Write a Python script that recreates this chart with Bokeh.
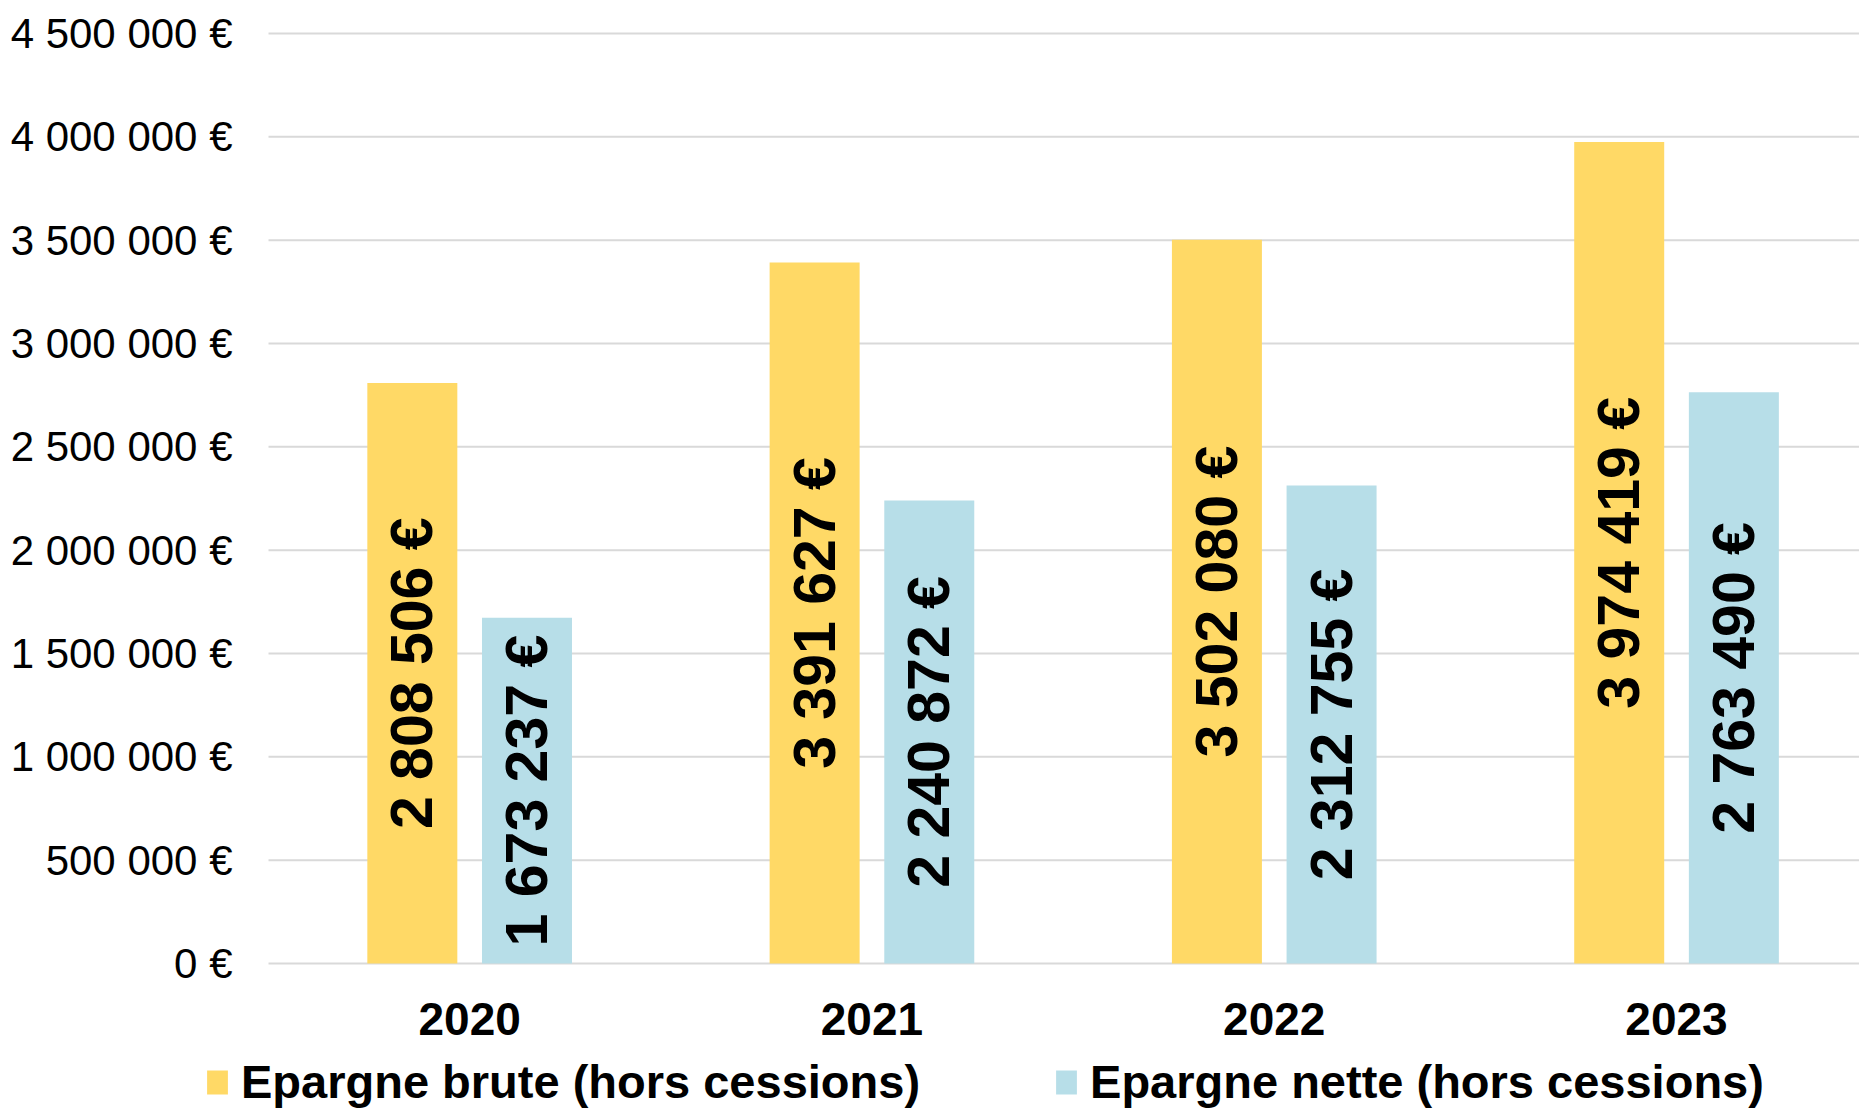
from bokeh.plotting import figure
from bokeh.models import ColumnDataSource, Range1d, FixedTicker, Legend, LegendItem
from bokeh.embed import file_html
from bokeh.resources import INLINE
from bokeh.core.properties import value
import math

# ---- data ----
years = ["2020", "2021", "2022", "2023"]
epargne_brute = [2808506, 3391627, 3502080, 3974419]
epargne_nette = [1673237, 2240872, 2312755, 2763490]
series_names = ["Epargne brute (hors cessions)", "Epargne nette (hors cessions)"]
y_ticks = [0, 500000, 1000000, 1500000, 2000000, 2500000, 3000000, 3500000, 4000000, 4500000]
y_tick_labels = ["0 €", "500 000 €", "1 000 000 €", "1 500 000 €", "2 000 000 €",
                 "2 500 000 €", "3 000 000 €", "3 500 000 €", "4 000 000 €", "4 500 000 €"]

# ---- style ----
YELLOW = "#FFD966"
BLUE = "#B7DEE8"
GRID = "#D9D9D9"
FONT = "Liberation Sans"
OFFSET = 0.1425
BAR_W = 0.2237
X_START, X_END = -0.6662, 3.9548
Y_START, Y_END = -711280, 4659600


def fmt(v):
    return f"{v:,}".replace(",", " ") + " €"


centers = [i + 0.5 for i in range(len(years))]
src_b = ColumnDataSource(dict(
    x=[c - OFFSET for c in centers], top=epargne_brute,
    mid=[v / 2 for v in epargne_brute], label=[fmt(v) for v in epargne_brute]))
src_n = ColumnDataSource(dict(
    x=[c + OFFSET for c in centers], top=epargne_nette,
    mid=[v / 2 for v in epargne_nette], label=[fmt(v) for v in epargne_nette]))
src_grid = ColumnDataSource(dict(
    x0=[0] * len(y_ticks), x1=[X_END] * len(y_ticks), y=y_ticks))

W, H = 1859, 1110
p = figure(width=W, height=H, output_backend="svg", toolbar_location=None,
           x_range=Range1d(X_START, X_END), y_range=Range1d(Y_START, Y_END),
           min_border=0)
p.outline_line_color = None
p.background_fill_color = "white"
p.border_fill_color = "white"
p.xgrid.visible = False
p.ygrid.visible = False

# horizontal grid lines, starting at the category axis origin
p.segment(x0="x0", x1="x1", y0="y", y1="y", source=src_grid,
          line_color=GRID, line_width=2, level="underlay")

r_b = p.vbar(x="x", top="top", bottom=0, width=BAR_W, source=src_b,
             fill_color=YELLOW, line_color=None)
r_n = p.vbar(x="x", top="top", bottom=0, width=BAR_W, source=src_n,
             fill_color=BLUE, line_color=None)

for src in (src_b, src_n):
    p.text(x="x", y="mid", text="label", source=src, angle=math.pi / 2,
           text_align="center", text_baseline="middle",
           text_font=value(FONT), text_font_size="59px", text_font_style="bold",
           text_color="black")

# axes (placed inside the frame at the data origin)
p.yaxis.fixed_location = 0
p.yaxis.ticker = FixedTicker(ticks=y_ticks)
p.yaxis.major_label_overrides = dict(zip(y_ticks, y_tick_labels))
p.yaxis.axis_line_color = None
p.yaxis.major_tick_line_color = None
p.yaxis.minor_tick_line_color = None
p.yaxis.major_tick_out = 0
p.yaxis.major_tick_in = 0
p.yaxis.major_label_standoff = 36
p.yaxis.major_label_text_font = FONT
p.yaxis.major_label_text_font_size = "42px"
p.yaxis.major_label_text_color = "black"

p.xaxis.fixed_location = 0
p.xaxis.ticker = FixedTicker(ticks=centers)
p.xaxis.major_label_overrides = dict(zip(centers, years))
p.xaxis.axis_line_color = None
p.xaxis.major_tick_line_color = None
p.xaxis.minor_tick_line_color = None
p.xaxis.major_tick_out = 0
p.xaxis.major_tick_in = 0
p.xaxis.major_label_standoff = 40
p.xaxis.major_label_text_font = FONT
p.xaxis.major_label_text_font_size = "46px"
p.xaxis.major_label_text_font_style = "bold"
p.xaxis.major_label_text_color = "black"

legend = Legend(items=[LegendItem(label=series_names[0], renderers=[r_b]),
                       LegendItem(label=series_names[1], renderers=[r_n])],
                orientation="horizontal", location=(204, 1),
                padding=0, margin=0, spacing=133,
                glyph_width=26, glyph_height=30, label_standoff=11,
                label_text_font=FONT, label_text_font_size="47px",
                label_text_font_style="bold", label_text_color="black",
                border_line_color=None, background_fill_alpha=0)
p.add_layout(legend, "center")

open("out.html", "w").write(file_html(p, INLINE))
